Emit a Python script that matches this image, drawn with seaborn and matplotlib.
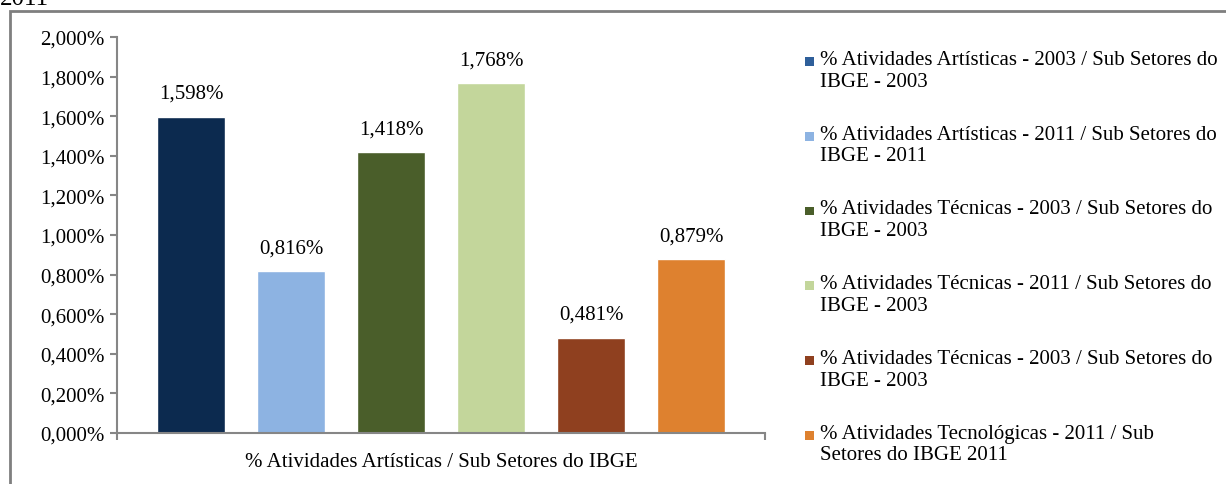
import pandas as pd
import seaborn as sns
import matplotlib.pyplot as plt
from matplotlib.patches import Rectangle, Patch
from matplotlib.legend_handler import HandlerPatch

# Data
category = ["% Atividades Artísticas / Sub Setores do IBGE"]
series = [
    "% Atividades Artísticas - 2003 / Sub Setores do\nIBGE - 2003",
    "% Atividades Artísticas - 2011 / Sub Setores do\nIBGE - 2011",
    "% Atividades Técnicas - 2003 / Sub Setores do\nIBGE - 2003",
    "% Atividades Técnicas - 2011 / Sub Setores do\nIBGE - 2003",
    "% Atividades Técnicas - 2003 / Sub Setores do\nIBGE - 2003 ",
    "% Atividades Tecnológicas - 2011 / Sub\nSetores do IBGE 2011",
]
values = [1.598, 0.816, 1.418, 1.768, 0.481, 0.879]
yticks = [0.0, 0.2, 0.4, 0.6, 0.8, 1.0, 1.2, 1.4, 1.6, 1.8, 2.0]

bar_colors = ["#0c2a4f", "#8db3e2", "#4a5e2a", "#c3d69b", "#8f401f", "#de812f"]
legend_colors = ["#2f5f9a", "#8db3e2", "#4a5e2a", "#c3d69b", "#8f401f", "#de812f"]

df = pd.DataFrame({"cat": category * len(series), "serie": series, "valor": values})

sns.set_style("white")
plt.rcParams["font.family"] = ["Liberation Serif", "DejaVu Serif"]
plt.rcParams["font.size"] = 15
plt.rcParams["text.color"] = "black"
plt.rcParams["xtick.color"] = "black"
plt.rcParams["ytick.color"] = "black"

fig = plt.figure(figsize=(12.26, 4.85), dpi=100)
ax = fig.add_axes([117 / 1226, 1 - 434 / 485, 648 / 1226, 396 / 485])

sns.barplot(data=df, x="cat", y="valor", hue="serie", palette=bar_colors,
            saturation=1, width=0.926, gap=0.32, legend=False, ax=ax)

for cont in ax.containers:
    ax.bar_label(cont, labels=[f"{v:.3f}%".replace(".", ",") for v in cont.datavalues],
                 padding=10, fontsize=15, color="black")

ax.set_ylim(0, 2.0)
ax.set_xlim(-0.5, 0.5)
ax.set_yticks(yticks)
ax.set_yticklabels([f"{t:.3f}%".replace(".", ",") for t in yticks])
ax.set_xlabel("")
ax.set_ylabel("")
ax.tick_params(axis="x", which="major", length=0, pad=14, labelsize=15)
ax.set_xticks([-0.5, 0.5], minor=True)
ax.tick_params(axis="x", which="minor", bottom=True, length=5, width=1.5,
               color="#868686", direction="out")
ax.tick_params(axis="y", left=True, length=5, width=1.5, color="#868686",
               direction="out", pad=4, labelsize=15)
for s in ["top", "right"]:
    ax.spines[s].set_visible(False)
for s in ["left", "bottom"]:
    ax.spines[s].set_color("#868686")
    ax.spines[s].set_linewidth(1.5)


def top_square(legend, orig_handle, xdescent, ydescent, width, height, fontsize):
    s = 0.42 * fontsize
    return Rectangle((-xdescent, -ydescent + height - s * 1.45), s, s)


handles = [Patch(facecolor=c, edgecolor="none") for c in legend_colors]
fig.legend(handles, [s.rstrip() for s in series], loc="upper left",
           bbox_to_anchor=(786 / 1226, 1 - 32 / 485), frameon=False,
           handlelength=0.45, handleheight=2.2, handletextpad=0.3,
           labelspacing=1.63, fontsize=15,
           handler_map={Patch: HandlerPatch(patch_func=top_square)})

# outer frame and cut-off caption of the screenshot
fig.patches.append(Rectangle((10 / 1226, -0.2), 1.2, 1.2 - 12 / 485,
                             transform=fig.transFigure, fill=False,
                             edgecolor="#7f7f7f", linewidth=2))
fig.text(0, 1 - 5 / 485, "2011", fontsize=18, va="baseline", ha="left")

fig.savefig("out.png", dpi=100)
